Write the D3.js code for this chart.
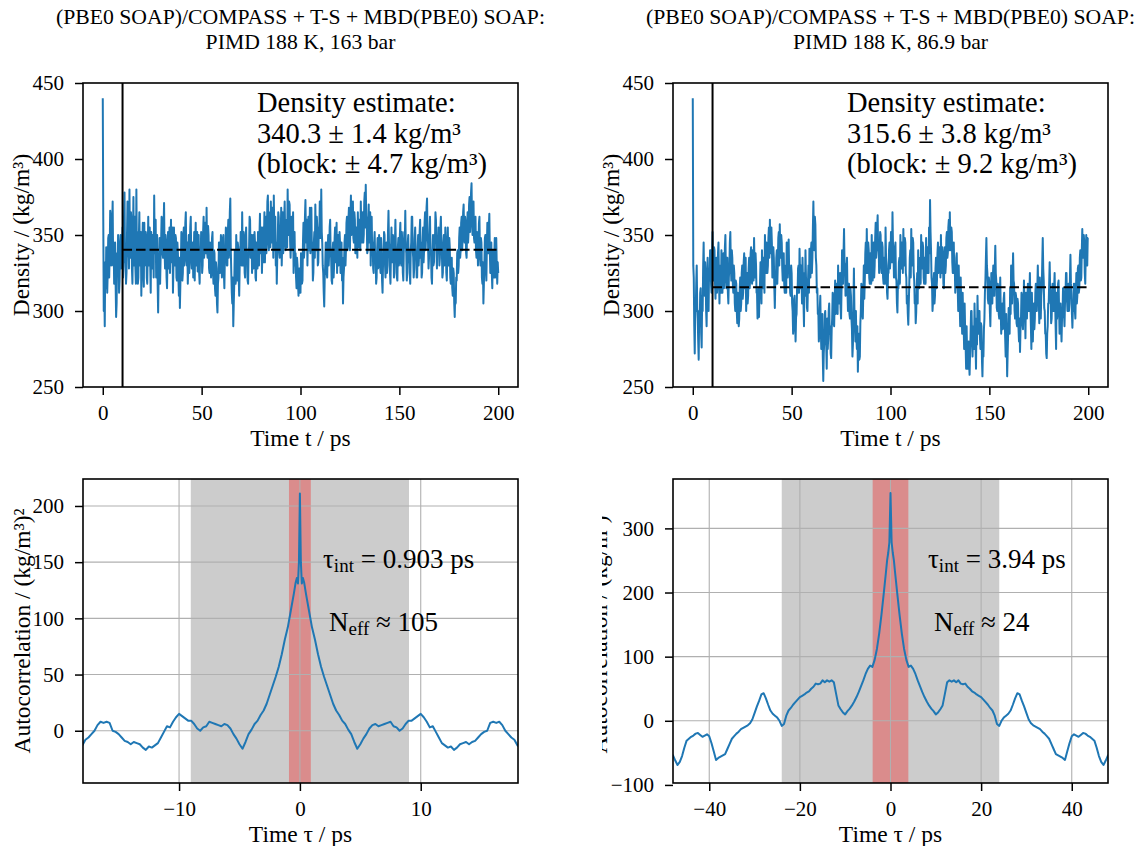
<!DOCTYPE html>
<html>
<head>
<meta charset="utf-8">
<script src="https://cdn.jsdelivr.net/npm/d3@7"></script>
<style>
  body { margin: 0; background: #fff; }
  svg { display: block; }
</style>
</head>
<body>
<svg id="fig" width="1141" height="846"></svg>
<script>
// ---------------------------------------------------------------------------
// Data
// ---------------------------------------------------------------------------
const sampleStep = 0.25;         // ps between stored density samples (t = i * sampleStep)
const equilibrationCut = 10;     // ps discarded before averaging

// Density trajectory, 163 bar run (kg/m³), t = 0 … 200 ps, one row per 10 ps
const density163 = [
  440, 360, 300, 318, 290, 332, 315, 342, 335, 312, 325, 348, 350, 322, 340, 366, 362, 330, 335, 356, 372, 330, 345, 318, 330, 345, 318, 296, 305, 338, 325, 350, 340, 312, 320, 342, 350, 328, 345, 330,
  355, 322, 330, 362, 378, 332, 340, 318, 325, 350, 372, 336, 350, 328, 380, 340, 335, 365, 360, 328, 318, 345, 375, 330, 345, 362, 328, 318, 380, 336, 352, 318, 322, 348, 365, 330, 338, 352, 310, 335,
  342, 358, 325, 316, 358, 330, 335, 352, 348, 322, 318, 340, 362, 330, 340, 355, 330, 312, 352, 335, 328, 350, 345, 322, 376, 342, 338, 360, 322, 340, 350, 318, 299, 325, 330, 348, 318, 335, 345, 362,
  360, 338, 335, 355, 371, 340, 328, 350, 345, 322, 315, 338, 352, 328, 338, 355, 325, 340, 360, 332, 342, 355, 312, 330, 355, 338, 330, 350, 348, 322, 320, 345, 338, 322, 310, 335, 302, 318, 330, 352,
  345, 320, 325, 350, 355, 330, 338, 358, 365, 335, 330, 345, 318, 330, 350, 325, 340, 355, 362, 335, 328, 342, 345, 322, 335, 352, 320, 345, 358, 330, 340, 352, 326, 340, 350, 325, 318, 342, 335, 352,
  348, 325, 330, 352, 362, 335, 340, 358, 355, 338, 368, 340, 335, 356, 350, 328, 325, 345, 342, 322, 330, 348, 352, 325, 318, 340, 338, 315, 310, 332, 328, 305, 299, 318, 322, 345, 345, 325, 335, 350,
  342, 322, 328, 348, 350, 325, 315, 335, 338, 355, 352, 330, 330, 352, 360, 335, 345, 365, 374, 340, 325, 312, 305, 322, 290, 305, 318, 340, 335, 318, 350, 328, 320, 345, 342, 322, 310, 330, 335, 352,
  345, 330, 365, 340, 330, 352, 348, 325, 322, 345, 355, 335, 338, 320, 318, 340, 342, 362, 360, 335, 335, 350, 325, 342, 350, 328, 332, 352, 345, 322, 320, 345, 340, 328, 352, 335, 330, 350, 364, 338,
  340, 355, 325, 340, 355, 332, 345, 365, 332, 350, 362, 338, 350, 372, 376, 348, 340, 360, 365, 342, 372, 350, 345, 368, 358, 335, 376, 350, 340, 362, 330, 345, 318, 335, 348, 365, 362, 340, 335, 355,
  350, 368, 330, 345, 365, 338, 345, 360, 372, 348, 340, 358, 360, 342, 380, 355, 350, 372, 370, 345, 335, 352, 362, 340, 345, 365, 325, 342, 352, 330, 338, 322, 315, 335, 330, 318, 310, 328, 328, 312,
  312, 338, 335, 318, 320, 345, 358, 335, 340, 362, 373, 348, 345, 360, 330, 348, 362, 340, 350, 368, 338, 352, 368, 340, 345, 320, 325, 345, 352, 335, 370, 348, 340, 362, 355, 330, 332, 355, 348, 372,
  365, 348, 380, 352, 345, 330, 325, 312, 303, 322, 330, 345, 345, 325, 322, 340, 350, 330, 338, 355, 360, 338, 335, 320, 318, 340, 345, 322, 330, 348, 355, 332, 340, 358, 325, 342, 350, 330, 335, 352,
  345, 325, 330, 345, 320, 335, 305, 322, 328, 345, 350, 330, 340, 358, 362, 340, 345, 360, 368, 345, 340, 362, 376, 350, 355, 370, 372, 348, 345, 365, 360, 338, 338, 355, 350, 335, 365, 345, 342, 360,
  355, 340, 372, 352, 345, 362, 365, 345, 350, 372, 378, 355, 383, 362, 360, 338, 340, 358, 370, 345, 350, 365, 330, 345, 362, 340, 345, 328, 325, 345, 352, 335, 338, 318, 322, 340, 348, 328, 330, 350,
  345, 330, 325, 348, 340, 320, 312, 332, 335, 352, 350, 330, 322, 340, 345, 325, 330, 352, 366, 345, 340, 325, 318, 338, 355, 335, 332, 350, 345, 322, 325, 345, 360, 340, 338, 322, 320, 342, 348, 330,
  335, 350, 358, 332, 330, 352, 345, 325, 320, 340, 352, 345, 366, 342, 338, 320, 325, 345, 350, 332, 340, 325, 318, 340, 345, 362, 362, 340, 335, 322, 328, 348, 355, 335, 340, 322, 322, 342, 350, 330,
  338, 352, 360, 335, 345, 322, 325, 345, 355, 332, 340, 358, 365, 340, 350, 368, 374, 350, 345, 328, 335, 350, 362, 338, 340, 322, 318, 338, 350, 330, 332, 350, 345, 365, 360, 340, 328, 345, 342, 355,
  352, 330, 335, 355, 362, 345, 340, 322, 325, 345, 350, 330, 338, 355, 345, 325, 320, 338, 355, 335, 330, 348, 342, 322, 318, 330, 335, 315, 310, 328, 325, 305, 296, 312, 305, 322, 320, 338, 340, 325,
  330, 348, 355, 335, 340, 358, 362, 340, 348, 365, 370, 350, 345, 362, 358, 338, 335, 352, 365, 345, 352, 370, 375, 352, 360, 378, 384, 360, 350, 368, 372, 348, 345, 360, 362, 340, 335, 352, 350, 330,
  340, 358, 362, 338, 330, 348, 345, 322, 318, 332, 305, 318, 330, 348, 350, 328, 320, 342, 358, 338, 338, 355, 364, 340, 325, 342, 345, 325, 315, 335, 340, 322, 335, 348, 322, 335, 348, 330, 318, 332,
  325
];

// Density trajectory, 86.9 bar run (kg/m³), t = 0 … 200 ps, one row per 10 ps
const density869 = [
  440, 330, 322, 290, 272, 305, 300, 318, 330, 302, 295, 280, 268, 300, 290, 312, 315, 285, 276, 310, 300, 330, 345, 318, 310, 332, 325, 300, 290, 318, 335, 310, 300, 328, 320, 340, 340, 318, 312, 335,
  352, 328, 320, 342, 340, 318, 308, 330, 335, 312, 318, 338, 345, 322, 305, 325, 330, 312, 340, 318, 312, 332, 338, 315, 322, 342, 350, 325, 315, 335, 335, 312, 305, 322, 328, 345, 352, 330, 320, 340,
  335, 318, 312, 330, 325, 305, 300, 320, 318, 300, 292, 312, 310, 290, 295, 315, 322, 300, 305, 325, 330, 308, 312, 332, 338, 315, 318, 335, 300, 312, 325, 305, 310, 328, 335, 315, 320, 338, 342, 322,
  318, 340, 335, 320, 348, 330, 322, 338, 330, 312, 312, 295, 300, 315, 296, 312, 318, 332, 325, 305, 340, 322, 315, 335, 332, 312, 350, 330, 325, 345, 342, 325, 330, 348, 355, 335, 360, 340, 338, 355,
  345, 322, 325, 342, 335, 315, 302, 320, 318, 335, 340, 318, 330, 348, 352, 330, 357, 340, 335, 350, 345, 328, 320, 335, 338, 318, 312, 328, 330, 312, 345, 325, 322, 340, 347, 325, 328, 312, 310, 330,
  325, 305, 300, 285, 290, 308, 310, 292, 280, 296, 298, 315, 312, 328, 330, 312, 341, 325, 315, 330, 322, 305, 335, 318, 305, 290, 325, 310, 340, 322, 318, 302, 300, 318, 330, 312, 341, 325, 322, 340,
  345, 325, 335, 355, 372, 348, 340, 362, 357, 335, 330, 312, 315, 298, 300, 280, 285, 302, 310, 288, 275, 290, 298, 270, 254, 272, 280, 298, 300, 282, 277, 262, 295, 275, 282, 300, 305, 285, 290, 272,
  269, 288, 295, 312, 310, 292, 290, 305, 320, 298, 300, 318, 315, 298, 330, 308, 305, 322, 325, 302, 295, 315, 340, 320, 318, 338, 354, 332, 330, 310, 312, 328, 335, 312, 300, 318, 318, 298, 295, 315,
  310, 295, 288, 270, 278, 305, 328, 302, 290, 280, 300, 282, 275, 290, 260, 278, 285, 268, 270, 292, 300, 318, 315, 298, 295, 312, 330, 308, 320, 338, 345, 325, 354, 332, 325, 345, 340, 322, 318, 338,
  335, 318, 350, 330, 320, 340, 345, 322, 330, 348, 358, 335, 340, 355, 363, 340, 345, 325, 335, 352, 350, 330, 325, 345, 342, 322, 318, 335, 335, 318, 355, 335, 330, 312, 308, 325, 325, 340, 345, 328,
  335, 352, 350, 332, 365, 345, 340, 322, 325, 340, 345, 322, 320, 305, 299, 318, 315, 332, 335, 318, 350, 332, 328, 345, 340, 325, 354, 335, 330, 348, 345, 325, 322, 305, 310, 298, 291, 305, 318, 335,
  340, 322, 354, 335, 330, 348, 345, 325, 320, 305, 308, 292, 299, 315, 325, 305, 340, 322, 315, 332, 335, 318, 350, 332, 328, 345, 342, 322, 318, 335, 335, 318, 348, 330, 325, 342, 340, 325, 355, 338,
  373, 352, 340, 322, 318, 300, 306, 320, 325, 305, 310, 328, 335, 315, 320, 338, 345, 325, 328, 342, 340, 322, 350, 332, 325, 342, 338, 318, 315, 332, 342, 325, 330, 348, 352, 335, 338, 355, 360, 340,
  365, 345, 340, 355, 352, 332, 325, 340, 345, 325, 330, 312, 318, 335, 338, 318, 315, 300, 330, 312, 305, 290, 322, 305, 300, 285, 312, 295, 290, 275, 305, 288, 277, 262, 290, 270, 262, 278, 280, 265,
  258, 272, 285, 300, 300, 282, 270, 288, 290, 275, 305, 288, 278, 262, 295, 278, 310, 292, 285, 300, 300, 282, 275, 292, 290, 268, 257, 275, 270, 288, 295, 312, 320, 335, 348, 330, 325, 308, 305, 322,
  318, 300, 290, 308, 325, 310, 305, 322, 330, 312, 310, 328, 343, 325, 320, 302, 300, 318, 315, 298, 295, 310, 322, 300, 285, 298, 305, 288, 290, 308, 312, 295, 282, 270, 298, 280, 257, 272, 285, 302,
  300, 285, 315, 298, 330, 312, 305, 322, 338, 320, 318, 300, 295, 312, 310, 292, 290, 308, 305, 288, 280, 295, 273, 288, 295, 312, 310, 292, 288, 302, 320, 305, 300, 282, 312, 298, 295, 310, 318, 300,
  300, 312, 325, 305, 290, 275, 312, 295, 280, 298, 305, 288, 295, 312, 318, 300, 300, 315, 330, 310, 308, 292, 322, 305, 295, 310, 315, 332, 348, 328, 320, 302, 300, 285, 285, 272, 269, 285, 290, 305,
  305, 318, 332, 315, 310, 292, 295, 312, 318, 302, 300, 315, 325, 308, 290, 275, 312, 295, 300, 318, 320, 302, 285, 300, 305, 290, 280, 295, 298, 315, 315, 298, 290, 305, 310, 325, 325, 308, 300, 315,
  318, 300, 305, 322, 337, 318, 312, 298, 289, 302, 300, 318, 318, 300, 295, 312, 325, 305, 310, 328, 330, 312, 315, 335, 340, 320, 322, 340, 354, 335, 335, 350, 345, 325, 318, 338, 350, 332, 330, 348,
  348
];

// Autocorrelation functions, stored for lag τ >= 0 (the function is even in τ)
const acfLag163 = [
  0, 0.08, 0.16, 0.25, 0.35, 0.5, 0.75, 1, 1.25, 1.5, 1.75, 2, 2.25, 2.5, 2.75, 3, 3.25, 3.5, 3.75,
  4, 4.25, 4.5, 4.75, 5, 5.25, 5.5, 5.75, 6, 6.25, 6.5, 6.75, 7, 7.25, 7.5, 7.75, 8, 8.25, 8.5, 8.75,
  9, 9.25, 9.5, 9.75, 10, 10.25, 10.5, 10.75, 11, 11.25, 11.5, 11.75, 12, 12.25, 12.5, 12.75, 13,
  13.25, 13.5, 13.75, 14, 14.25, 14.5, 14.75, 15, 15.25, 15.5, 15.75, 16, 16.25, 16.5, 16.75, 17,
  17.25, 17.5, 17.75, 18, 18.25
];
const acfVal163 = [
  211, 150, 131, 136, 132, 122, 107, 92, 81, 68, 57, 48, 40, 32, 24, 18, 14, 9, 6,
  1, -3, -10, -16, -12, -7, -3, 2, 5, 6, 4, 5, 6, 7, 8, 4, 3, 0, 2, 6,
  9, 9, 11, 13, 15, 12, 8, 3, 4, -1, -6, -11, -13, -15, -14, -17, -15,
  -12, -11, -10, -12, -10, -9, -6, -3, -1, 0, 7, 8, 7, 8, 5, 0,
  -3, -6, -8, -13, -15
];

const acfLag869 = [
  0, 0.25, 0.5, 0.75, 1, 1.5, 2, 2.5, 3, 3.5, 4, 4.5, 5, 5.5, 6, 6.5, 7, 7.5, 8, 8.5, 9, 9.5, 10,
  10.5, 11, 11.5, 12, 12.5, 13, 13.5, 14, 14.5, 15, 15.5, 16, 16.5, 17, 17.5, 18, 18.5, 19, 19.5,
  20, 20.5, 21, 21.5, 22, 22.5, 23, 23.5, 24, 24.5, 25, 25.5, 26, 26.5, 27, 27.5, 28, 28.5, 29,
  29.5, 30, 30.5, 31, 31.5, 32, 32.5, 33, 33.5, 34, 34.5, 35, 35.5, 36, 36.5, 37, 37.5, 38, 38.5,
  39, 39.5, 40, 40.5, 41, 41.5, 42, 42.5, 43, 43.5, 44, 44.5, 45, 45.5, 46, 46.5, 47, 47.5, 48, 48.5
];
const acfVal869 = [
  355, 278, 262, 250, 232, 198, 165, 136, 112, 95, 84, 86, 81, 73, 63, 54, 45, 37, 30, 24, 19, 15, 10,
  13, 18, 24, 42, 60, 63, 61, 63, 60, 63, 58, 57, 58, 53, 50, 46, 44, 41, 39,
  37, 33, 29, 25, 20, 16, 8, -5, -8, 0, 5, 8, 11, 16, 25, 35, 43, 41, 31,
  22, 12, 2, -4, -7, -9, -11, -13, -17, -20, -24, -28, -36, -44, -52, -54, -56, -58, -61,
  -48, -35, -24, -21, -23, -25, -22, -19, -20, -23, -25, -28, -31, -42, -55, -64, -69, -62, -54, -50
];

// Summary statistics shown on the panels
const mean163 = 340.3, mean869 = 315.6;
const tauInt163 = 0.903, tauInt869 = 3.94;
const nEff163 = 105, nEff869 = 24;
const window163 = 9.03, window869 = 24;   // summation window for τ_int (ps)

// Tick values
const timeTicks = [0, 50, 100, 150, 200];
const densityTicks = [250, 300, 350, 400, 450];
const lagTicks163 = [-10, 0, 10];
const acfTicks163 = [0, 50, 100, 150, 200];
const lagTicks869 = [-40, -20, 0, 20, 40];
const acfTicks869 = [-100, 0, 100, 200, 300];

// Text
const titleLines163 = ['(PBE0 SOAP)/COMPASS + T-S + MBD(PBE0) SOAP:', 'PIMD 188 K, 163 bar'];
const titleLines869 = ['(PBE0 SOAP)/COMPASS + T-S + MBD(PBE0) SOAP:', 'PIMD 188 K, 86.9 bar'];
const estimate163 = ['Density estimate:', '340.3 ± 1.4 kg/m³', '(block: ± 4.7 kg/m³)'];
const estimate869 = ['Density estimate:', '315.6 ± 3.8 kg/m³', '(block: ± 9.2 kg/m³)'];

// ---------------------------------------------------------------------------
// Drawing
// ---------------------------------------------------------------------------
const FONT = '"Liberation Serif", "DejaVu Serif", serif';
const BLUE = '#1f77b4';
const fig = d3.select('#fig');
const defs = fig.append('defs');

const colLeft = [83, 673];
const rowTop = [83, 479];
const axW = 435, axH = 304;
const TICK_FS = 21, LABEL_FS = 23.5;

function makePanel(id, left, top, xDomain, yDomain) {
  const x = d3.scaleLinear().domain(xDomain).range([left, left + axW]);
  const y = d3.scaleLinear().domain(yDomain).range([top + axH, top]);
  defs.append('clipPath').attr('id', id)
    .append('rect').attr('x', left).attr('y', top).attr('width', axW).attr('height', axH);
  const g = fig.append('g');
  const plot = g.append('g').attr('clip-path', `url(#${id})`);
  return { x, y, g, plot, left, top };
}

function finishAxes(p, xTicks, yTicks) {
  p.g.append('rect')
    .attr('x', p.left).attr('y', p.top).attr('width', axW).attr('height', axH)
    .attr('fill', 'none').attr('stroke', '#000').attr('stroke-width', 1.6);
  const xa = p.g.append('g').attr('transform', `translate(0,${p.top + axH})`)
    .call(d3.axisBottom(p.x).tickValues(xTicks).tickSize(8).tickPadding(10).tickSizeOuter(0));
  const ya = p.g.append('g').attr('transform', `translate(${p.left},0)`)
    .call(d3.axisLeft(p.y).tickValues(yTicks).tickSize(8).tickPadding(11).tickSizeOuter(0));
  [xa, ya].forEach(a => {
    a.select('.domain').remove();
    a.attr('font-family', FONT).attr('font-size', TICK_FS);
    a.selectAll('.tick line').attr('stroke', '#000').attr('stroke-width', 1.5);
    a.selectAll('.tick text').attr('font-family', FONT).attr('font-size', TICK_FS).attr('fill', '#000');
  });
}

function axisLabels(p, xLabel, yLabel, yLabelX, clipLeft) {
  p.g.append('text')
    .attr('x', p.left + axW / 2).attr('y', p.top + axH + 59)
    .attr('text-anchor', 'middle').attr('font-family', FONT).attr('font-size', LABEL_FS)
    .text(xLabel);
  const holder = p.g.append('g');
  if (clipLeft !== undefined) {
    const cid = 'ylabclip' + Math.round(p.left) + '_' + Math.round(p.top);
    defs.append('clipPath').attr('id', cid)
      .append('rect').attr('x', clipLeft).attr('y', p.top).attr('width', 60).attr('height', axH);
    holder.attr('clip-path', `url(#${cid})`);
  }
  holder.append('text')
    .attr('transform', `translate(${yLabelX},${p.top + axH / 2}) rotate(-90)`)
    .attr('text-anchor', 'middle').attr('font-family', FONT).attr('font-size', LABEL_FS)
    .text(yLabel);
}

function title(lines, cx) {
  lines.forEach((s, i) => {
    fig.append('text')
      .attr('x', cx).attr('y', 24 + i * 25)
      .attr('text-anchor', 'middle').attr('font-family', FONT).attr('font-size', 21.7)
      .text(s);
  });
}

function densityPanel(id, col, series, mean, estimate, titleLines, yLabelX) {
  const p = makePanel(id, colLeft[col], rowTop[0], [-10, 210], [250, 450]);
  const pts = series.map((v, i) => [i * sampleStep, v]);
  p.plot.append('path')
    .datum(pts)
    .attr('fill', 'none').attr('stroke', BLUE).attr('stroke-width', 2)
    .attr('stroke-linejoin', 'round')
    .attr('d', d3.line().x(d => p.x(d[0])).y(d => p.y(d[1])));
  // equilibration cut
  p.plot.append('line')
    .attr('x1', p.x(equilibrationCut)).attr('x2', p.x(equilibrationCut))
    .attr('y1', p.top).attr('y2', p.top + axH)
    .attr('stroke', '#000').attr('stroke-width', 2);
  // production-run mean
  p.plot.append('line')
    .attr('x1', p.x(equilibrationCut)).attr('x2', p.x(200))
    .attr('y1', p.y(mean)).attr('y2', p.y(mean))
    .attr('stroke', '#000').attr('stroke-width', 2).attr('stroke-dasharray', '9.5,4');
  finishAxes(p, timeTicks, densityTicks);
  axisLabels(p, 'Time t / ps', 'Density / (kg/m³)', yLabelX);
  const tx = p.left + 174;
  estimate.forEach((s, i) => {
    p.g.append('text')
      .attr('x', tx).attr('y', 112 + i * 30.5)
      .attr('font-family', FONT).attr('font-size', 28.5)
      .text(s);
  });
  title(titleLines, p.left + axW / 2);
}

function acfPanel(id, col, lags, vals, xDomain, yDomain, win, tauInt, nEff,
                  xTicks, yTicks, noteX, yLabelX, clipLeft) {
  const p = makePanel(id, colLeft[col], rowTop[1], xDomain, yDomain);
  // integration window and τ_int band
  p.plot.append('rect')
    .attr('x', p.x(-win)).attr('width', p.x(win) - p.x(-win))
    .attr('y', p.top).attr('height', axH).attr('fill', '#cccccc');
  p.plot.append('rect')
    .attr('x', p.x(-tauInt)).attr('width', p.x(tauInt) - p.x(-tauInt))
    .attr('y', p.top).attr('height', axH).attr('fill', '#da8c8c');
  // grid
  const grid = p.plot.append('g').attr('stroke', '#b0b0b0').attr('stroke-width', 1.1);
  grid.selectAll('.gx').data(xTicks).join('line')
    .attr('x1', d => p.x(d)).attr('x2', d => p.x(d))
    .attr('y1', p.top).attr('y2', p.top + axH);
  grid.selectAll('.gy').data(yTicks).join('line')
    .attr('y1', d => p.y(d)).attr('y2', d => p.y(d))
    .attr('x1', p.left).attr('x2', p.left + axW);
  // even function: negative lags carry the same values
  const pts = [];
  for (let i = lags.length - 1; i > 0; i--) pts.push([-lags[i], vals[i]]);
  for (let i = 0; i < lags.length; i++) pts.push([lags[i], vals[i]]);
  p.plot.append('path')
    .datum(pts)
    .attr('fill', 'none').attr('stroke', BLUE).attr('stroke-width', 2)
    .attr('stroke-linejoin', 'round')
    .attr('d', d3.line().x(d => p.x(d[0])).y(d => p.y(d[1])));
  finishAxes(p, xTicks, yTicks);
  axisLabels(p, 'Time τ / ps', 'Autocorrelation / (kg/m³)²', yLabelX, clipLeft);

  const t1 = p.g.append('text').attr('x', noteX).attr('y', 568)
    .attr('font-family', FONT).attr('font-size', 27);
  t1.append('tspan').text('τ');
  t1.append('tspan').attr('font-size', 19).attr('dy', 4).text('int');
  t1.append('tspan').attr('dy', -4).text(` = ${tauInt} ps`);
  const t2 = p.g.append('text').attr('x', noteX + 6).attr('y', 631)
    .attr('font-family', FONT).attr('font-size', 27);
  t2.append('tspan').text('N');
  t2.append('tspan').attr('font-size', 19).attr('dy', 4).text('eff');
  t2.append('tspan').attr('dy', -4).text(` ≈ ${nEff}`);
}

densityPanel('clipTL', 0, density163, mean163, estimate163, titleLines163, 29);
densityPanel('clipTR', 1, density869, mean869, estimate869, titleLines869, 619);
acfPanel('clipBL', 0, acfLag163, acfVal163, [-17.95, 18.05], [-46.5, 224], window163, tauInt163,
         nEff163, lagTicks163, acfTicks163, 323, 30);
acfPanel('clipBR', 1, acfLag869, acfVal869, [-48, 48], [-97, 377], window869, tauInt869,
         nEff869, lagTicks869, acfTicks869, 928, 607, 602);
</script>
</body>
</html>
